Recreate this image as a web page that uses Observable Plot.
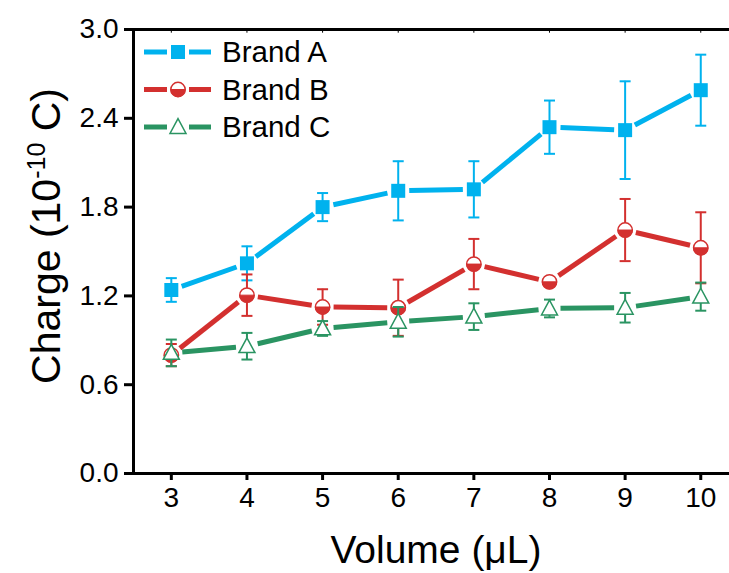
<!DOCTYPE html>
<html><head><meta charset="utf-8">
<script src="https://cdn.jsdelivr.net/npm/d3@7"></script>
<script src="https://cdn.jsdelivr.net/npm/@observablehq/plot@0.6"></script>
<style>
body{margin:0;background:#fff}
#chart svg{font-family:"Liberation Sans",Arial,sans-serif;background:#fff}
</style>
</head><body><div id="chart"></div>
<script>
const volumes = [3, 4, 5, 6, 7, 8, 9, 10];
const seriesNames = ["Brand A", "Brand B", "Brand C"];
const brandA    = [1.24, 1.42, 1.80, 1.91, 1.92, 2.34, 2.32, 2.59];
const brandAErr = [0.08, 0.115, 0.095, 0.20, 0.19, 0.18, 0.33, 0.24];
const brandB    = [0.80, 1.205, 1.125, 1.12, 1.415, 1.295, 1.645, 1.525];
const brandBErr = [0.075, 0.14, 0.12, 0.19, 0.17, 0.02, 0.21, 0.24];
const brandC    = [0.815, 0.86, 0.98, 1.025, 1.06, 1.115, 1.12, 1.195];
const brandCErr = [0.09, 0.09, 0.05, 0.10, 0.09, 0.06, 0.10, 0.095];
const colors = ["#00b2ee", "#d3302f", "#2a9462"];
const yTicks = [0, 0.6, 1.2, 1.8, 2.4, 3.0];
const xLabel = "Volume (\u03bcL)";

// custom symbols
const halfBottom = {draw(ctx, size){ const r = Math.sqrt(size/Math.PI); ctx.moveTo(r,0); ctx.arc(0,0,r,0,Math.PI); ctx.closePath(); }};
const triUp = {draw(ctx, size){ const r = Math.sqrt(size/Math.PI); ctx.moveTo(0,-1.05*r); ctx.lineTo(r,0.8*r); ctx.lineTo(-r,0.8*r); ctx.closePath(); }};
const capLine = {draw(ctx, size){ const r = Math.sqrt(size/Math.PI); ctx.moveTo(-r,0); ctx.lineTo(r,0); }};

const allVals = [brandA, brandB, brandC];
const allErrs = [brandAErr, brandBErr, brandCErr];
const tables = allVals.map((vals, s) => volumes.map((v, i) => ({
  x: v, y: vals[i], lo: vals[i] - allErrs[s][i], hi: vals[i] + allErrs[s][i]
})));
const segs = tables.map(t => t.slice(1).map((d, i) => ({x1: t[i].x, y1: t[i].y, x2: d.x, y2: d.y})));

function seriesMarks(s){
  const t = tables[s], c = colors[s];
  const marks = [
    Plot.ruleX(t, {x: "x", y1: "lo", y2: "hi", stroke: c, strokeWidth: 2}),
    Plot.dot(t, {x: "x", y: "lo", symbol: capLine, r: 5.5, stroke: c, strokeWidth: 2, fill: "none"}),
    Plot.dot(t, {x: "x", y: "hi", symbol: capLine, r: 5.5, stroke: c, strokeWidth: 2, fill: "none"}),
    Plot.arrow(segs[s], {x1: "x1", y1: "y1", x2: "x2", y2: "y2", stroke: c, strokeWidth: 5, headLength: 0, inset: 11, bend: 0, strokeLinecap: "butt"})
  ];
  if (s === 0) marks.push(Plot.dot(t, {x: "x", y: "y", symbol: "square", r: 7.9, fill: c, stroke: "none"}));
  if (s === 1) {
    marks.push(Plot.dot(t, {x: "x", y: "y", symbol: "circle", r: 7.2, fill: "white", stroke: c, strokeWidth: 1.5}));
    marks.push(Plot.dot(t, {x: "x", y: "y", symbol: halfBottom, r: 7.2, fill: c, stroke: c, strokeWidth: 1}));
  }
  if (s === 2) marks.push(Plot.dot(t, {x: "x", y: "y", symbol: triUp, r: 8, fill: "white", stroke: c, strokeWidth: 1.5}));
  return marks;
}

const chart = Plot.plot({
  width: 729, height: 573,
  marginLeft: 133, marginRight: 0, marginTop: 29, marginBottom: 100,
  x: {domain: [2.5, 10.38]},
  y: {domain: [0, 3]},
  marks: [
    Plot.axisX({ticks: volumes, tickSize: 7, tickPadding: 7, strokeWidth: 3, fontSize: 28, label: null, tickFormat: d => String(d)}),
    Plot.axisY({ticks: yTicks, tickSize: 9, tickPadding: 6, strokeWidth: 3, fontSize: 28, label: null, tickFormat: d => d.toFixed(1)}),
    Plot.ruleX(volumes, {x: d => d, y1: 3, y2: 2.975, strokeWidth: 1}),
    Plot.ruleY([0], {strokeWidth: 3}),
    Plot.ruleY([3], {strokeWidth: 3}),
    Plot.ruleX([2.5], {y1: 0, y2: 3, strokeWidth: 3}),
    ...seriesMarks(0),
    ...seriesMarks(1),
    ...seriesMarks(2)
  ]
});

const svg = d3.select(chart);
svg.append("text").attr("x", 436).attr("y", 563).attr("text-anchor", "middle")
  .attr("font-size", 39).attr("fill", "black").text(xLabel);
const yl = svg.append("text").attr("transform", "translate(60,236) rotate(-90)")
  .attr("text-anchor", "middle").attr("font-size", 41).attr("fill", "black");
yl.append("tspan").text("Charge (10");
yl.append("tspan").attr("dy", -15).attr("font-size", 25).text("-10");
yl.append("tspan").attr("dy", 15).text(" C)");

// legend
const leg = svg.append("g").attr("text-anchor", "start");
seriesNames.forEach((name, s) => {
  const cy = 52 + s * 37.5, c = colors[s];
  const g = leg.append("g").attr("transform", `translate(0,${cy})`);
  g.append("line").attr("x1", 144).attr("x2", 167).attr("y1", 0).attr("y2", 0).attr("stroke", c).attr("stroke-width", 5);
  g.append("line").attr("x1", 189).attr("x2", 211).attr("y1", 0).attr("y2", 0).attr("stroke", c).attr("stroke-width", 5);
  const m = g.append("g").attr("transform", "translate(178,0)");
  if (s === 0) m.append("path").attr("d", d3.symbol(d3.symbolSquare, 7.9*7.9*Math.PI)()).attr("fill", c);
  if (s === 1) {
    m.append("path").attr("d", d3.symbol(d3.symbolCircle, 7.2*7.2*Math.PI)()).attr("fill", "white").attr("stroke", c).attr("stroke-width", 1.5);
    m.append("path").attr("d", d3.symbol(halfBottom, 7.2*7.2*Math.PI)()).attr("fill", c).attr("stroke", c);
  }
  if (s === 2) m.append("path").attr("d", d3.symbol(triUp, 64*Math.PI)()).attr("fill", "white").attr("stroke", c).attr("stroke-width", 1.5);
  g.append("text").attr("x", 222).attr("y", 0).attr("dy", "0.35em").attr("text-anchor", "start")
    .attr("font-size", 29.5).attr("fill", "black").text(name);
});

document.getElementById("chart").appendChild(chart);
</script>
</body></html>
